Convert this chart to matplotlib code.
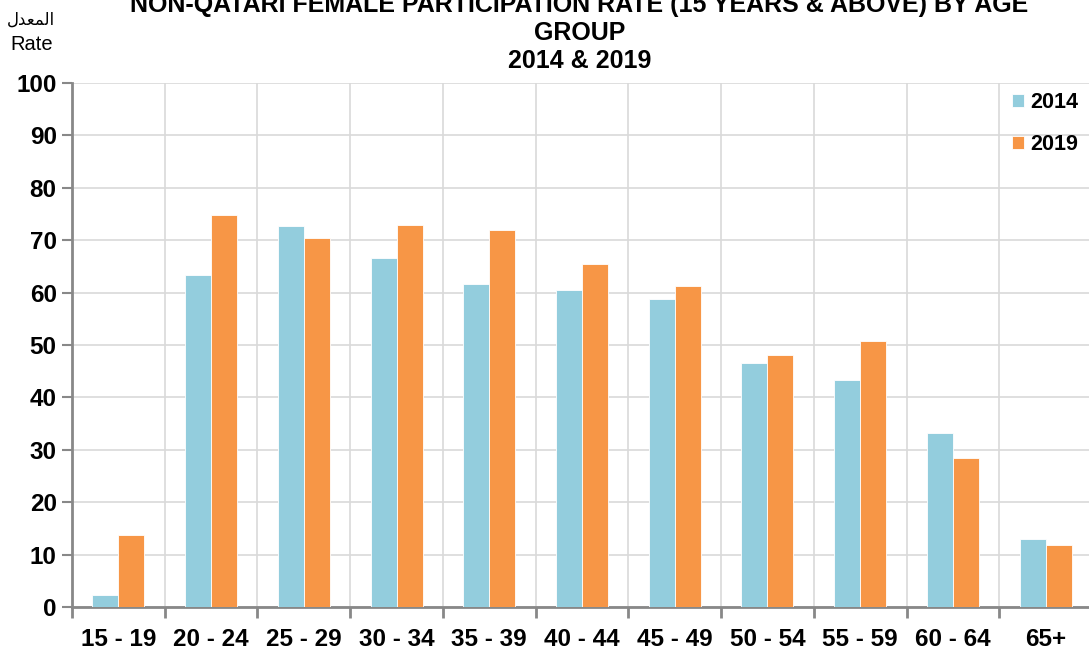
import matplotlib
matplotlib.use("Agg")
import matplotlib.pyplot as plt
import numpy as np

# Data.
age_groups = ["15 - 19", "20 - 24", "25 - 29", "30 - 34", "35 - 39", "40 - 44",
              "45 - 49", "50 - 54", "55 - 59", "60 - 64", "65+"]
rate_2014 = [2.3, 63.4, 72.7, 66.6, 61.6, 60.5, 58.8, 46.6, 43.3, 33.2, 13.0]
rate_2019 = [13.7, 74.8, 70.4, 72.9, 71.9, 65.5, 61.3, 48.1, 50.8, 28.5, 11.8]
y_ticks = [0, 10, 20, 30, 40, 50, 60, 70, 80, 90, 100]

plt.rcParams["font.family"] = ["Liberation Sans", "DejaVu Sans"]

fig = plt.figure(figsize=(10.89, 6.5), dpi=100)
ax = fig.add_axes([72 / 1089, 1 - 607 / 650, 1020 / 1089, 524 / 650])

x = np.arange(len(age_groups))
w = 0.28
ax.bar(x - w / 2, rate_2014, w, color="#93CDDD", edgecolor="white", linewidth=0.6,
       label="2014", zorder=3)
ax.bar(x + w / 2, rate_2019, w, color="#F79646", edgecolor="white", linewidth=0.6,
       label="2019", zorder=3)

ax.set_xlim(-0.5, len(age_groups) - 0.5)
ax.set_ylim(0, 100)
ax.set_yticks(y_ticks)
ax.set_yticklabels([str(v) for v in y_ticks], fontsize=17.5, fontweight="bold")
ax.set_xticks(x)
ax.set_xticklabels(age_groups, fontsize=17.5, fontweight="bold")
ax.set_xticks(np.arange(-0.5, len(age_groups), 1), minor=True)
ax.tick_params(axis="x", which="major", length=0, pad=15)
ax.tick_params(axis="x", which="minor", length=8, width=2, color="#888888")
ax.tick_params(axis="y", length=7, width=1.5, color="#888888", pad=4)

ax.grid(axis="y", color="#d9d9d9", linewidth=1.2, zorder=0)
ax.grid(axis="x", which="minor", color="#d9d9d9", linewidth=1.2, zorder=0)
for s in ["top", "right"]:
    ax.spines[s].set_visible(False)
for s in ["left", "bottom"]:
    ax.spines[s].set_color("#888888")
    ax.spines[s].set_linewidth(2)

leg = ax.legend(loc="upper right", bbox_to_anchor=(1098 / 1089, 1 - 73 / 650),
                bbox_transform=fig.transFigure, frameon=False,
                prop={"weight": "bold", "size": 15.5}, handlelength=0.55,
                handleheight=0.55, handletextpad=0.3, labelspacing=0.95)

fig.text(0.532, 1 - 33 / 650,
         "NON-QATARI FEMALE PARTICIPATION RATE (15 YEARS & ABOVE) BY AGE\nGROUP\n2014 & 2019",
         ha="center", va="center", fontsize=18, fontweight="bold", linespacing=1.2)

# Arabic "المعدل" written in shaped presentation forms (visual order)
fig.text(31 / 1089, 1 - 20 / 650, "\ufedd\ufeaa\ufecc\ufee4\ufedf\ufe8d",
         ha="center", va="center", fontsize=12, family=["DejaVu Sans"])
fig.text(32 / 1089, 1 - 45 / 650, "Rate", ha="center", va="center", fontsize=14.5)

fig.savefig("out.png", dpi=100)
